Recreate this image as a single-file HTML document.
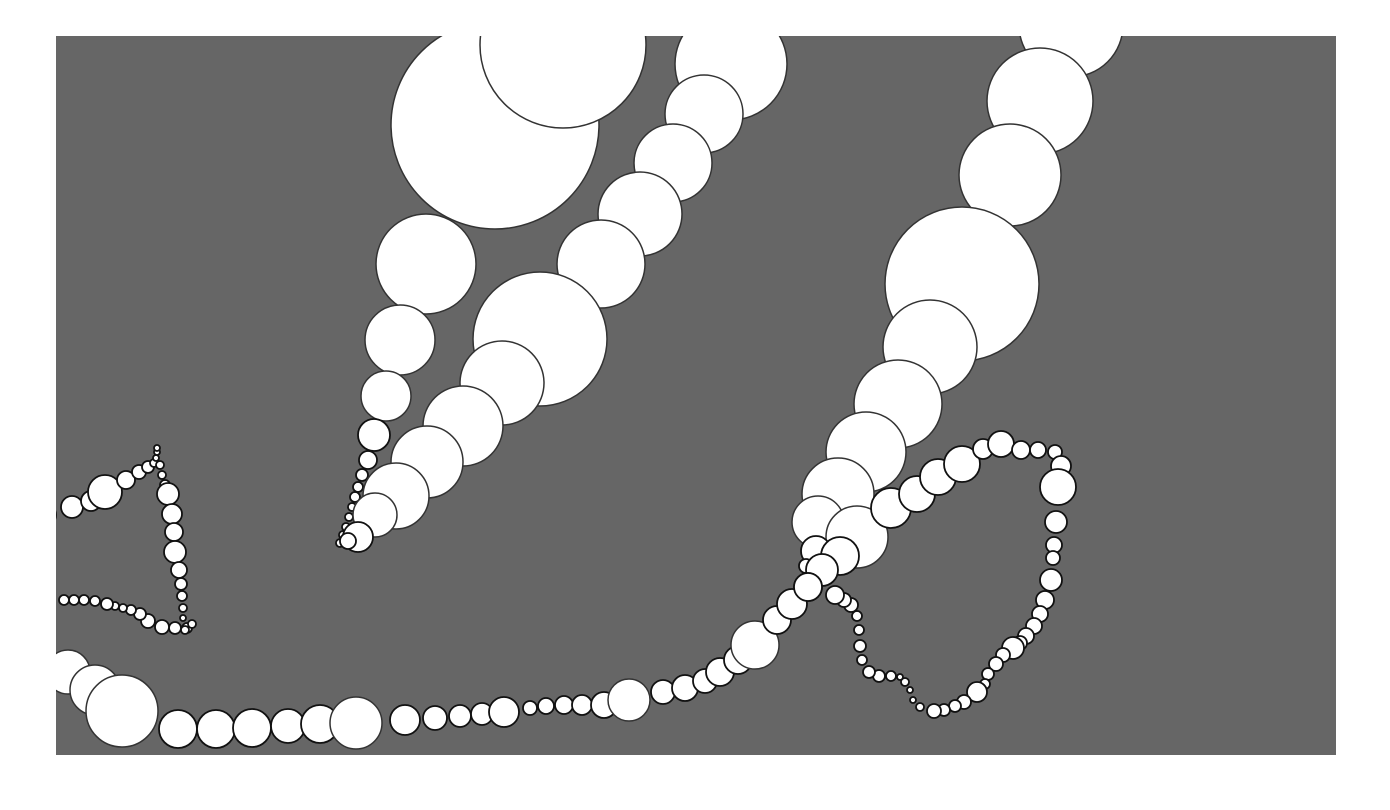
<!DOCTYPE html>
<html><head><meta charset="utf-8"><style>
html,body{margin:0;padding:0;background:#fff;width:1390px;height:810px;overflow:hidden}
svg{display:block}
</style></head><body>
<svg id="chart" width="1390" height="810" xmlns="http://www.w3.org/2000/svg">
<defs><clipPath id="pc"><rect x="56" y="36" width="1280" height="719"/></clipPath></defs>
<rect x="56" y="36" width="1280" height="719" fill="#666666"/>
<g id="marks" clip-path="url(#pc)"></g>
</svg>
<script>
// data in plot units (0..1280 x, 0..719 y from top), radius in units
const xs = [439,507,370,344,330,318,312,306,302,299,296,293,290,287,284,
675,648,617,584,545,484,446,407,371,340,319,302,292,
1015,984,954,906,874,842,810,782,762,801,760,784,750,766,
752,835,861,882,906,927,945,965,982,999,1005,1002,1000,998,997,995,989,984,978,970,964,957,947,940,932,929,921,908,899,888,878,864,857,854,849,844,835,823,813,806,804,803,801,795,788,779,
-16,12,39,66,122,160,196,232,264,300,349,379,404,426,448,474,490,508,526,548,573,607,629,649,664,682,699,721,736,752,
-12,16,35,49,70,83,92,98,100,101,101,
104,106,109,112,116,118,119,123,125,126,127,127,131,136,129,119,106,92,84,75,67,59,51,39,28,18,8];
const ys = [89,9,228,304,360,399,424,439,451,461,471,481,491,499,507,
28,78,127,178,228,303,347,390,426,460,479,501,505,
-11,65,139,248,311,368,416,458,486,501,515,520,530,534,
551,472,458,441,428,413,408,414,414,416,430,451,486,509,522,544,564,578,590,600,607,612,619,628,638,648,656,666,670,674,675,671,664,654,646,641,640,640,636,624,610,594,580,569,564,559,
619,636,654,675,693,693,692,690,688,687,684,682,680,678,676,672,670,669,669,669,664,656,652,645,636,624,609,584,568,551,
479,471,465,456,444,436,431,427,422,416,412,
429,439,449,458,478,496,516,534,548,560,572,582,592,588,594,592,591,585,578,574,572,570,568,565,564,564,564];
const rs = [104,83,50,35,25,16,9,6,5,5,4,4,4,4,4,
56,39,39,42,44,67,42,40,36,33,22,15,8,
52,53,51,77,47,44,40,36,26,31,15,19,7,16,
14,20,18,18,18,10,13,9,8,7,10,18,11,8,7,11,9,8,8,8,7,11,7,7,6,5,10,7,6,6,7,4,3,3,4,3,5,6,6,5,6,5,5,7,7,9,
15,22,25,36,19,19,19,17,19,26,15,12,11,11,15,7,8,9,10,13,21,12,13,12,14,14,24,14,15,14,
12,11,10,17,9,7,6,4,3,3,3,
4,4,5,11,10,9,11,8,6,5,4,3,5,4,4,6,7,7,6,5,4,4,6,5,5,5,5];
const X0=56, Y0=36;
function sx(v){return X0+v;}
function sy(v){return Y0+v;}
function sr(v){return v;}
const g=document.getElementById('marks');
const n=Math.min(xs.length,ys.length,rs.length);
for(let i=0;i<n;i++){
  const c=document.createElementNS('http://www.w3.org/2000/svg','circle');
  c.setAttribute('cx',sx(xs[i]));
  c.setAttribute('cy',sy(ys[i]));
  c.setAttribute('r',sr(rs[i]));
  c.setAttribute('fill','#ffffff');
  c.setAttribute('stroke',rs[i]>20?'#333':'#111');
  c.setAttribute('stroke-width',rs[i]>20?1.5:1.8);
  
  
  g.appendChild(c);
}
</script>
</body></html>
